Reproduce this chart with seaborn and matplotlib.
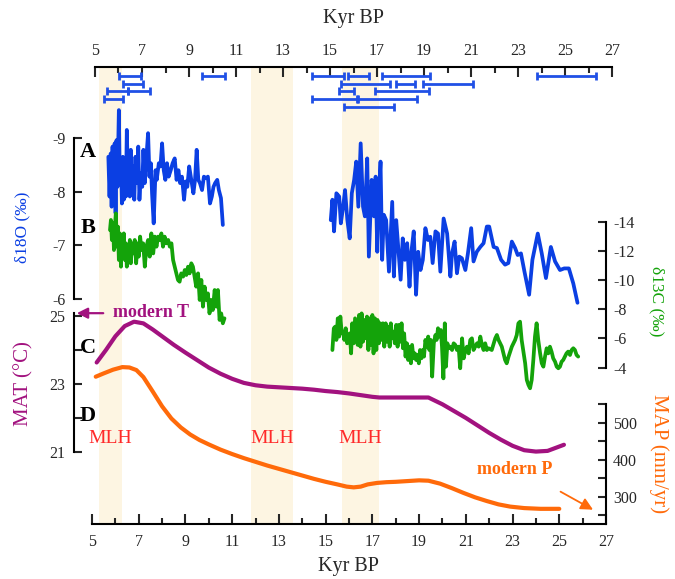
import matplotlib
matplotlib.use("Agg")
import matplotlib.pyplot as plt
import seaborn as sns
import pandas as pd

sns.set_theme(style="ticks")
plt.rcParams['font.family'] = ['Liberation Serif', 'DejaVu Serif']
plt.rcParams['axes.unicode_minus'] = False

# ---------------- data ----------------
# delta18O, part 1 (kyr BP, permil)
o18_age1 = [5.70, 5.75, 5.80, 5.84, 5.88, 5.92, 5.97, 6.01, 6.05, 6.09, 6.15, 6.19, 6.24, 6.28, 6.32,
            6.36, 6.41, 6.45, 6.49, 6.54, 6.58, 6.62, 6.66, 6.72, 6.76, 6.81, 6.86, 6.92, 6.98, 7.03,
            7.09, 7.15, 7.20, 7.26, 7.33, 7.40, 7.46, 7.52, 7.57, 7.64, 7.72, 7.77, 7.86, 7.93, 8.00,
            8.07, 8.14, 8.21, 8.28, 8.37, 8.45, 8.54, 8.62, 8.70, 8.77, 8.85, 8.94, 9.01, 9.08, 9.16,
            9.25, 9.34, 9.41, 9.48, 9.55, 9.62, 9.71, 9.79, 9.89, 9.96, 10.05, 10.13, 10.20, 10.27,
            10.36, 10.43, 10.52, 10.60]
o18_val1 = [-8.65, -7.91, -8.71, -7.72, -8.84, -7.85, -8.90, -7.60, -8.96, -8.09, -9.52, -8.16, -8.59,
            -7.78, -8.65, -7.85, -8.47, -7.91, -9.15, -8.22, -8.65, -7.91, -8.78, -8.09, -8.47, -7.85,
            -8.65, -8.16, -8.84, -7.85, -8.34, -8.09, -8.78, -8.16, -8.65, -9.09, -8.28, -8.53, -7.97,
            -7.41, -8.40, -8.22, -8.53, -8.47, -8.90, -8.40, -8.22, -8.53, -8.28, -8.40, -8.53, -8.62,
            -8.22, -8.40, -8.16, -8.28, -7.85, -8.19, -8.09, -8.47, -8.22, -7.97, -8.22, -8.78, -8.22,
            -8.16, -8.03, -8.28, -8.25, -8.28, -7.78, -7.91, -8.09, -8.16, -8.22, -8.03, -7.88, -7.38]
# delta18O, part 2
o18_age2 = [15.22, 15.29, 15.36, 15.46, 15.58, 15.65, 15.75, 15.83, 15.93, 16.03, 16.12, 16.22, 16.31,
            16.40, 16.50, 16.60, 16.68, 16.78, 16.85, 16.97, 17.07, 17.14, 17.21, 17.28, 17.35, 17.42,
            17.49, 17.59, 17.71, 17.85, 17.92, 18.02, 18.11, 18.21, 18.30, 18.39, 18.49, 18.59, 18.67,
            18.77, 18.87, 18.96, 19.06, 19.16, 19.27, 19.38, 19.48, 19.58, 19.70, 19.81, 19.91, 20.05,
            20.20, 20.34, 20.41, 20.52, 20.62, 20.72, 20.83, 20.98, 21.09, 21.23, 21.33, 21.47, 21.62,
            21.76, 21.90, 22.00, 22.19, 22.33, 22.51, 22.68, 22.82, 22.97, 23.11, 23.22, 23.36, 23.51,
            23.71, 23.85, 24.08, 24.25, 24.43, 24.64, 24.82, 25.03, 25.21, 25.41, 25.60, 25.78]
o18_val2 = [-7.47, -7.85, -7.26, -7.97, -7.91, -7.41, -7.72, -8.03, -7.47, -7.13, -7.97, -8.22, -8.56,
            -7.72, -8.90, -7.72, -7.54, -8.62, -6.79, -8.22, -7.54, -8.28, -6.88, -7.97, -8.56, -6.73,
            -7.57, -7.47, -6.51, -7.81, -6.42, -7.47, -6.95, -6.36, -7.13, -6.73, -7.04, -6.23, -6.88,
            -7.26, -6.08, -6.88, -6.54, -6.73, -7.32, -7.10, -7.16, -6.67, -7.26, -7.22, -6.51, -7.50,
            -7.22, -6.42, -6.85, -7.07, -6.48, -6.79, -6.76, -6.54, -6.85, -7.32, -6.70, -6.88, -6.97,
            -7.04, -7.35, -7.35, -6.97, -6.95, -6.73, -6.64, -6.67, -7.07, -6.95, -6.82, -6.85, -6.51,
            -6.08, -6.73, -7.22, -6.85, -6.39, -6.97, -6.70, -6.54, -6.57, -6.57, -6.29, -5.93]

# delta13C, part 1
c13_age1 = [5.77, 5.81, 5.85, 5.90, 5.94, 5.98, 6.02, 6.07, 6.11, 6.15, 6.19, 6.24, 6.28, 6.32, 6.36,
            6.41, 6.45, 6.49, 6.54, 6.58, 6.62, 6.66, 6.72, 6.78, 6.83, 6.89, 6.95, 7.00, 7.06, 7.12,
            7.19, 7.26, 7.33, 7.40, 7.47, 7.54, 7.62, 7.69, 7.76, 7.83, 7.90, 7.97, 8.04, 8.11, 8.18,
            8.26, 8.33, 8.40, 8.47, 8.54, 8.61, 8.68, 8.75, 8.82, 8.90, 8.97, 9.04, 9.11, 9.18, 9.25,
            9.32, 9.39, 9.46, 9.54, 9.61, 9.68, 9.75, 9.82, 9.89, 9.96, 10.03, 10.10, 10.17, 10.25,
            10.32, 10.39, 10.46, 10.53, 10.60, 10.67]
c13_val1 = [-13.43, -14.12, -12.75, -13.89, -12.06, -13.66, -14.57, -12.29, -13.66, -11.38, -13.20,
            -10.92, -12.75, -11.83, -13.20, -11.38, -12.52, -10.92, -12.29, -11.61, -12.75, -11.15,
            -12.52, -11.83, -12.75, -11.15, -12.52, -11.61, -12.98, -12.06, -12.52, -10.92, -12.29,
            -12.75, -11.61, -13.20, -11.83, -12.98, -12.29, -12.98, -12.75, -13.20, -12.29, -12.98,
            -12.52, -12.75, -12.29, -12.52, -11.38, -10.92, -10.46, -10.01, -9.89, -10.46, -10.24,
            -10.69, -10.35, -10.92, -10.46, -11.15, -10.92, -10.24, -9.55, -10.46, -8.64, -10.01,
            -8.18, -9.55, -8.64, -9.09, -7.72, -8.64, -7.95, -9.32, -8.18, -9.32, -7.27, -7.72,
            -7.04, -7.38]
# delta13C, part 2
c13_age2 = [15.29, 15.35, 15.41, 15.46, 15.52, 15.58, 15.63, 15.69, 15.75, 15.80, 15.86, 15.92, 15.97,
            16.03, 16.09, 16.14, 16.20, 16.26, 16.32, 16.37, 16.43, 16.49, 16.54, 16.60, 16.66, 16.71,
            16.77, 16.83, 16.88, 16.94, 17.00, 17.05, 17.11, 17.17, 17.22, 17.28, 17.34, 17.40, 17.45,
            17.51, 17.57, 17.62, 17.68, 17.74, 17.79, 17.85, 17.91, 17.96, 18.02, 18.08, 18.13, 18.19,
            18.25, 18.31, 18.36, 18.42, 18.48, 18.53, 18.59, 18.65, 18.70, 18.76, 18.82, 18.87, 18.93,
            18.99, 19.04, 19.10, 19.16, 19.21, 19.27, 19.33, 19.39, 19.44, 19.50, 19.56, 19.63, 19.70,
            19.75, 19.81, 19.87, 19.93, 19.98, 20.04, 20.10, 20.15, 20.21, 20.27, 20.34, 20.41, 20.48,
            20.55, 20.62, 20.69, 20.76, 20.84, 20.91, 20.98, 21.05, 21.12, 21.19, 21.26, 21.33, 21.40,
            21.48, 21.55, 21.62, 21.69, 21.76, 21.83, 21.90, 21.97, 22.11, 22.26, 22.33, 22.40, 22.54,
            22.68, 22.75, 22.83, 22.97, 23.11, 23.18, 23.25, 23.32, 23.39, 23.54, 23.61, 23.68, 23.75,
            23.82, 23.89, 23.96, 24.03, 24.10, 24.18, 24.25, 24.32, 24.39, 24.46, 24.53, 24.60, 24.67,
            24.74, 24.82, 24.89, 24.96, 25.03, 25.10, 25.17, 25.24, 25.31, 25.38, 25.46, 25.53, 25.60,
            25.67, 25.74, 25.81]
c13_val2 = [-5.21, -6.70, -6.81, -5.90, -7.38, -6.13, -7.50, -6.35, -6.47, -5.90, -6.70, -5.67, -6.24,
            -6.35, -4.98, -7.04, -5.67, -7.38, -6.35, -5.56, -7.61, -5.44, -7.72, -5.78, -7.27, -6.01,
            -7.50, -5.21, -7.38, -5.56, -7.61, -4.98, -7.38, -5.21, -7.27, -5.67, -7.04, -5.90, -7.04,
            -5.44, -7.04, -5.78, -6.81, -5.44, -7.04, -6.01, -6.47, -5.67, -6.93, -5.44, -6.93, -5.78,
            -7.04, -5.33, -6.35, -4.76, -5.67, -4.53, -5.44, -4.30, -5.56, -4.64, -4.98, -4.53, -4.87,
            -4.30, -5.21, -4.64, -5.21, -4.76, -5.90, -5.44, -6.13, -5.21, -5.90, -3.39, -5.67, -6.24,
            -5.90, -6.70, -6.13, -6.58, -5.44, -3.27, -7.04, -4.07, -5.67, -5.33, -5.44, -5.21, -5.67,
            -5.56, -5.21, -5.44, -3.96, -6.01, -4.64, -5.21, -5.44, -4.98, -5.90, -6.01, -5.21, -5.44,
            -5.67, -5.44, -6.13, -5.56, -5.21, -5.67, -5.21, -5.33, -5.21, -6.01, -6.24, -5.90, -5.44,
            -4.53, -4.30, -4.76, -5.44, -5.90, -6.24, -7.04, -7.15, -5.90, -4.30, -3.16, -2.82, -2.59,
            -3.16, -4.53, -6.13, -7.04, -5.90, -4.98, -4.30, -4.07, -4.76, -5.33, -4.98, -5.44, -5.10,
            -4.64, -4.41, -4.07, -3.96, -4.07, -4.41, -4.53, -4.76, -4.98, -5.10, -4.87, -5.21, -5.33,
            -5.21, -4.87, -4.76]

# mean annual temperature (C)
mat_age = [5.20, 5.60, 6.00, 6.40, 6.80, 7.20, 7.60, 8.00, 8.50, 9.00, 9.50, 10.00, 10.50, 11.00, 11.50,
           12.00, 12.50, 13.00, 13.50, 14.00, 14.50, 15.00, 15.50, 16.00, 16.50, 17.00, 17.30, 19.40,
           20.00, 20.50, 21.00, 21.50, 22.00, 22.50, 23.00, 23.50, 24.00, 24.50, 25.20]
mat_val = [23.63, 24.00, 24.40, 24.70, 24.83, 24.78, 24.60, 24.40, 24.15, 23.92, 23.70, 23.48, 23.30,
           23.15, 23.03, 22.96, 22.92, 22.90, 22.88, 22.86, 22.83, 22.79, 22.76, 22.72, 22.67, 22.62,
           22.60, 22.60, 22.40, 22.20, 22.00, 21.78, 21.56, 21.36, 21.18, 21.05, 21.01, 21.03, 21.21]

# mean annual precipitation (mm/yr)
map_age = [5.16, 5.50, 5.90, 6.30, 6.60, 6.90, 7.20, 7.60, 8.00, 8.40, 8.80, 9.20, 9.60, 10.00, 10.50,
           11.00, 11.50, 12.00, 12.50, 13.00, 13.50, 14.00, 14.50, 15.00, 15.50, 15.90, 16.20, 16.50,
           16.80, 17.20, 17.60, 18.00, 18.50, 19.00, 19.40, 19.90, 20.40, 20.90, 21.40, 21.90, 22.40,
           22.90, 23.50, 24.20, 25.00]
map_val = [625, 634, 644, 651, 650, 643, 624, 585, 545, 512, 488, 469, 454, 442, 428, 416, 405, 395, 385,
           376, 367, 358, 349, 341, 334, 328, 326, 328, 334, 338, 340, 341, 343, 345, 344, 336, 324, 311,
           299, 289, 280, 274, 270, 268, 268]

# U-Th ages with 2-sigma errors (kyr BP), grouped by display row
date_age = [6.48, 10.04, 14.90, 16.21, 18.23, 25.07, 6.62, 16.50, 18.21, 20.02,
            5.97, 6.88, 15.69, 18.06, 5.79, 15.21, 17.45, 16.67]
date_err = [0.46, 0.50, 0.68, 0.43, 1.03, 1.25, 0.44, 1.05, 0.41, 1.05,
            0.45, 0.46, 0.31, 1.15, 0.41, 0.96, 1.25, 1.06]
date_row = [0, 0, 0, 0, 0, 0, 1, 1, 1, 1, 2, 2, 2, 2, 3, 3, 3, 4]

# MLH intervals (kyr BP)
mlh_start = [5.30, 11.80, 15.70]
mlh_end = [6.30, 13.60, 17.30]

x_ticks = list(range(5, 28, 2))
x_minor = list(range(6, 27, 2))

# ---------------- styling ----------------
BLUE = '#0B3FE3'
GREEN = '#14A30A'
PURPLE = '#A2127F'
ORANGE = '#FF6A0A'
RED = '#FF2A2A'
BAND = '#FDF5E2'
EBLUE = '#2050E6'

W, H = 675, 579
fig = plt.figure(figsize=(W / 100, H / 100), dpi=100)


def rect(l, t, r, b):
    return [l / W, 1 - b / H, (r - l) / W, (b - t) / H]


PLOT = (92, 67, 606, 524)
TOP = (95, 67, 612, 524)
TL = 11.5

ax = fig.add_axes(rect(*PLOT))
ax.set_facecolor('none')
ax.set_xlim(5, 27)
ax.set_ylim(0, 1)
for s in ['top', 'left', 'right']:
    ax.spines[s].set_visible(False)
ax.spines['bottom'].set_linewidth(1.5)
ax.spines['bottom'].set_color('black')
ax.set_xticks(x_ticks)
ax.set_xticks(x_minor, minor=True)
ax.set_xticklabels([str(v) for v in x_ticks])
ax.tick_params(axis='x', which='major', direction='in', length=7, width=1.5, labelsize=TL, pad=7,
               bottom=True, top=False)
ax.tick_params(axis='x', which='minor', direction='in', length=4, width=1.5, bottom=True, top=False)
ax.set_yticks([])
for a0, a1 in zip(mlh_start, mlh_end):
    ax.axvspan(a0, a1, color=BAND, lw=0, zorder=0)
for a0, a1 in zip(mlh_start, mlh_end):
    ax.text((a0 + a1) / 2, 0.188, 'MLH', color=RED, fontsize=14, ha='center', va='center')
ax.set_xlabel('')

# top axis with dating error bars
axt = fig.add_axes(rect(*TOP))
axt.set_facecolor('none')
axt.set_xlim(5, 27)
axt.set_ylim(58.18, -1.169)
for s in ['bottom', 'left', 'right']:
    axt.spines[s].set_visible(False)
axt.spines['top'].set_linewidth(1.5)
axt.spines['top'].set_color('black')
axt.xaxis.set_ticks_position('top')
axt.set_xticks(x_ticks)
axt.set_xticks(x_minor, minor=True)
axt.set_xticklabels([str(v) for v in x_ticks])
axt.tick_params(axis='x', which='major', direction='in', length=7, width=1.5, labelsize=TL, pad=6,
                top=True, bottom=False, labeltop=True, labelbottom=False)
axt.tick_params(axis='x', which='minor', direction='in', length=4, width=1.5, top=True, bottom=False)
axt.set_yticks([])
axt.errorbar(date_age, date_row, xerr=date_err, fmt='none', ecolor=EBLUE, elinewidth=2.0,
             capsize=2.6, capthick=2.0)


def overlay(ylim):
    a = fig.add_axes(rect(*PLOT))
    a.set_facecolor('none')
    a.set_xlim(5, 27)
    a.set_ylim(*ylim)
    for s in a.spines.values():
        s.set_visible(False)
    a.tick_params(axis='x', which='both', bottom=False, top=False, labelbottom=False)
    return a


# A: delta18O
axA = overlay((-1.808, -10.323))
sns.lineplot(x=o18_age1, y=o18_val1, ax=axA, color=BLUE, lw=2.7, sort=False, estimator=None)
sns.lineplot(x=o18_age2, y=o18_val2, ax=axA, color=BLUE, lw=2.7, sort=False, estimator=None)
axA.set_ylim(-1.808, -10.323)
axA.set_xlim(5, 27)
axA.spines['left'].set_visible(True)
axA.spines['left'].set_position(('outward', 13))
axA.spines['left'].set_bounds(-9, -6)
axA.spines['left'].set_linewidth(1.5)
axA.spines['left'].set_color('black')
axA.yaxis.set_ticks_position('left')
axA.set_yticks([-9, -8, -7, -6])
axA.set_yticklabels(['-9', '-8', '-7', '-6'])
axA.tick_params(axis='y', direction='in', length=6, width=1.5, labelsize=TL, pad=6)
axA.set_xlabel('')
axA.set_ylabel('')

# B: delta13C
axB = overlay((6.71, -24.6))
sns.lineplot(x=c13_age1, y=c13_val1, ax=axB, color=GREEN, lw=2.7, sort=False, estimator=None)
sns.lineplot(x=c13_age2, y=c13_val2, ax=axB, color=GREEN, lw=2.7, sort=False, estimator=None)
axB.set_ylim(6.71, -24.6)
axB.set_xlim(5, 27)
axB.spines['right'].set_visible(True)
axB.spines['right'].set_bounds(-14, -4)
axB.spines['right'].set_linewidth(1.5)
axB.spines['right'].set_color('black')
axB.yaxis.set_ticks_position('right')
axB.set_yticks([-14, -12, -10, -8, -6, -4])
axB.set_yticklabels(['-14', '-12', '-10', '-8', '-6', '-4'])
axB.tick_params(axis='y', direction='in', length=6, width=1.5, labelsize=TL, pad=5,
                right=True, left=False, labelright=True, labelleft=False)
axB.set_xlabel('')
axB.set_ylabel('')

# C: MAT
axC = overlay((18.88, 32.32))
sns.lineplot(x=mat_age, y=mat_val, ax=axC, color=PURPLE, lw=3.0, sort=False, estimator=None)
axC.set_ylim(18.88, 32.32)
axC.set_xlim(5, 27)
axC.spines['left'].set_visible(True)
axC.spines['left'].set_position(('outward', 13))
axC.spines['left'].set_bounds(21, 25.1)
axC.spines['left'].set_linewidth(1.5)
axC.spines['left'].set_color('black')
axC.yaxis.set_ticks_position('left')
axC.set_yticks([21, 22, 23, 24, 25])
axC.set_yticklabels(['21', '', '23', '', '25'])
axC.tick_params(axis='y', direction='in', length=6, width=1.5, labelsize=TL, pad=6)
axC.set_xlabel('')
axC.set_ylabel('')

# D: MAP
axD = overlay((227, 1462))
sns.lineplot(x=map_age, y=map_val, ax=axD, color=ORANGE, lw=3.0, sort=False, estimator=None)
axD.set_ylim(227, 1462)
axD.set_xlim(5, 27)
axD.spines['right'].set_visible(True)
axD.spines['right'].set_bounds(227, 550)
axD.spines['right'].set_linewidth(1.5)
axD.spines['right'].set_color('black')
axD.yaxis.set_ticks_position('right')
axD.set_yticks([250, 300, 350, 400, 450, 500, 550])
axD.set_yticklabels(['', '300', '', '400', '', '500', ''])
axD.tick_params(axis='y', direction='in', length=6, width=1.5, labelsize=TL, pad=5,
                right=True, left=False, labelright=True, labelleft=False)
axD.set_xlabel('')
axD.set_ylabel('')

# modern values
axC.annotate('', xy=(4.23, 25.08), xytext=(5.6, 25.08),
             arrowprops=dict(arrowstyle='-|>', color=PURPLE, lw=1.6, mutation_scale=16),
             annotation_clip=False)
axC.text(5.9, 25.1, 'modern T', color=PURPLE, fontsize=13, fontweight='bold', ha='left', va='center')
axD.annotate('', xy=(26.55, 262), xytext=(24.95, 318),
             arrowprops=dict(arrowstyle='-|>', color=ORANGE, lw=1.3, mutation_scale=18),
             annotation_clip=False)
axD.text(23.1, 375, 'modern P', color=ORANGE, fontsize=13, fontweight='bold', ha='center', va='center')

# panel letters
for letter, yy in [('A', 152), ('B', 228), ('C', 348), ('D', 416)]:
    fig.text(88 / W, 1 - yy / H, letter, fontsize=16, fontweight='bold', ha='center', va='center',
             color='black')

# axis titles
fig.text(353 / W, 1 - 19 / H, 'Kyr BP', fontsize=14.5, ha='center', va='center')
fig.text(348 / W, 1 - 567 / H, 'Kyr BP', fontsize=14.5, ha='center', va='center')
fig.text(22 / W, 1 - 227 / H, 'δ18O (‰)', rotation=90, color=BLUE, fontsize=12.5, ha='center', va='center')
fig.text(657 / W, 1 - 301 / H, 'δ13C (‰)', rotation=270, color=GREEN, fontsize=12.5, ha='center', va='center')
fig.text(24 / W, 1 - 384 / H, 'MAT (°C)', rotation=90, color=PURPLE, fontsize=15, ha='center', va='center')
fig.text(659 / W, 1 - 454 / H, 'MAP (mm/yr)', rotation=270, color=ORANGE, fontsize=15, ha='center', va='center')

fig.savefig('out.png', dpi=100)
